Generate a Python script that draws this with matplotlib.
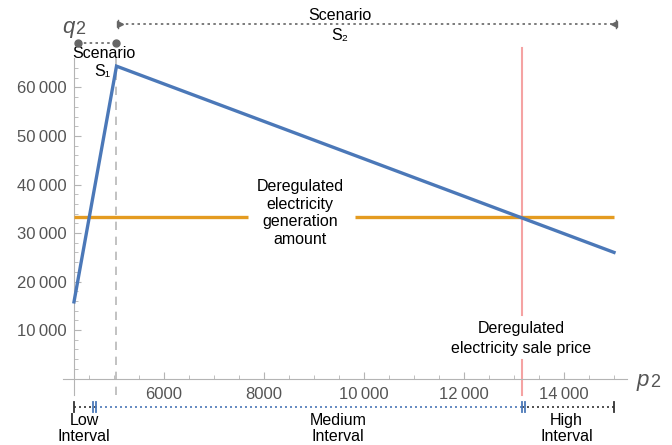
import matplotlib
matplotlib.use("Agg")
import matplotlib.pyplot as plt
import numpy as np

# ---- data ----
p_points = [4200, 5050, 15000]
q_points = [15800, 64400, 26000]
gen_amount = 33200
sale_price = 13150
low_end = 4620
x_major = [6000, 8000, 10000, 12000, 14000]
y_major = [10000, 20000, 30000, 40000, 50000, 60000]

FONT = ['Liberation Sans', 'DejaVu Sans']
plt.rcParams['font.family'] = FONT

def fmt(v):
    v = int(v)
    if v >= 10000:
        s = f"{v:,}".replace(",", "\u2009")
    else:
        s = str(v)
    return s

fig = plt.figure(figsize=(6.72, 4.45), dpi=100)
ax = fig.add_axes([0, 0, 1, 1])
ax.set_facecolor('white')

# pixel mapping: x px = 74 + (x-4200)*0.05 ; y px(from top) = 378.5 - y*0.00485
ax.set_xlim(2720, 16160)
ax.set_ylim(-13711, 78041)

for s in ['top', 'right']:
    ax.spines[s].set_visible(False)
axc = '#b4b4b4'
ax.spines['left'].set_position(('data', p_points[0]))
ax.spines['bottom'].set_position(('data', 0))
ax.spines['left'].set_bounds(-3500, 66000)
ax.spines['bottom'].set_bounds(3980, 15260)
ax.spines['left'].set_color(axc)
ax.spines['bottom'].set_color(axc)

ax.set_xticks(x_major)
ax.set_xticklabels([fmt(v) for v in x_major])
ax.set_xticks([v for v in np.arange(4500, 15001, 500) if v not in x_major], minor=True)
ax.set_yticks(y_major)
ax.set_yticklabels([fmt(v) for v in y_major])
ax.set_yticks([v for v in np.arange(2000, 64001, 2000) if v not in y_major], minor=True)
ax.tick_params(which='both', direction='in', color=axc, labelcolor='#555555', labelsize=12)
ax.tick_params(axis='x', which='major', length=5, pad=6)
ax.tick_params(axis='x', which='minor', length=3)
ax.tick_params(axis='y', which='major', length=5, pad=5)
ax.tick_params(axis='y', which='minor', length=3)

# dashed vertical at scenario boundary
ax.plot([p_points[1], p_points[1]], [-3500, 66000], color='#b8b8b8', lw=1.2,
        dashes=(5, 4), zorder=2)

# red vertical (sale price) with gap for text
red = '#f5a3a3'
ax.plot([sale_price, sale_price], [-3500, 3800], color=red, lw=1.5, zorder=2)
ax.plot([sale_price, sale_price], [13100, 68100], color=red, lw=1.5, zorder=2)
ax.text(sale_price, 10300, "Deregulated", ha='center', va='center', fontsize=11.5, color='black')
ax.text(sale_price, 6200, "electricity sale price", ha='center', va='center', fontsize=11.5, color='black')

# orange horizontal with gap for text
orange = '#E49B20'
ax.plot([p_points[0], 7680], [gen_amount, gen_amount], color=orange, lw=2.4, zorder=3,
        solid_capstyle='butt')
ax.plot([9820, p_points[-1]], [gen_amount, gen_amount], color=orange, lw=2.4, zorder=3,
        solid_capstyle='butt')
for i, t in enumerate(["Deregulated", "electricity", "generation", "amount"]):
    ax.text(8720, 39550 - i * 3600, t, ha='center', va='center', fontsize=11.5, color='black')

# blue curve
ax.plot(p_points, q_points, color='#4B78B8', lw=2.4, zorder=4, solid_joinstyle='miter')

# axis labels
ax.text(3960, 72400, "q", style='italic', fontsize=16, color='#555555', ha='left', va='center')
ax.text(4230, 71900, "2", fontsize=13, color='#555555', ha='left', va='center')
ax.text(15460, -400, "p", style='italic', fontsize=16, color='#555555', ha='left', va='center')
ax.text(15730, -800, "2", fontsize=13, color='#555555', ha='left', va='center')

# Scenario S1 bracket
yS1 = 69250
ax.plot([4280, p_points[1]], [yS1, yS1], color='#666666', lw=1.2, dashes=(1.5, 2), zorder=3)
ax.plot([4280, p_points[1]], [yS1, yS1], 'o', color='#666666', ms=5, zorder=4)
ax.text(4800, 67100, "Scenario", ha='center', va='center', fontsize=11.5, color='black')
ax.text(4920, 63200, "S\u2081", ha='right', va='center', fontsize=11.5, color='black')

# Scenario S2 bracket
yS2 = 73100
ax.plot([5120, p_points[-1]], [yS2, yS2], color='#666666', lw=1.2, dashes=(1.5, 2), zorder=3)
ax.plot([5120], [yS2], marker='>', color='#666666', ms=5, zorder=4)
ax.plot([p_points[-1]], [yS2], marker='<', color='#666666', ms=5, zorder=4)
ax.plot([5090, 5090], [yS2 - 900, yS2 + 900], color='#666666', lw=1)
ax.plot([p_points[-1] + 30, p_points[-1] + 30], [yS2 - 900, yS2 + 900], color='#666666', lw=1)
ax.text(9520, 74900, "Scenario", ha='center', va='center', fontsize=11.5, color='black',
        bbox=dict(facecolor='white', edgecolor='none', pad=0.5))
ax.text(9520, 70700, "S\u2082", ha='center', va='center', fontsize=11.5, color='black')

# interval brackets
yI = -5900
blue_d = '#4B78B8'
ax.plot([p_points[0], low_end], [yI, yI], color='#333333', lw=1.2, dashes=(1.2, 1.8))
ax.plot([low_end, sale_price], [yI, yI], color=blue_d, lw=1.2, dashes=(1.2, 1.8))
ax.plot([sale_price, p_points[-1]], [yI, yI], color='#333333', lw=1.2, dashes=(1.2, 1.8))
bh = 1000
ax.plot([p_points[0], p_points[0]], [yI - bh, yI + bh], color='#333333', lw=1.3)
ax.plot([low_end - 30, low_end - 30], [yI - bh, yI + bh], color=blue_d, lw=1.3)
ax.plot([low_end + 30, low_end + 30], [yI - bh, yI + bh], color=blue_d, lw=1.3)
ax.plot([sale_price + 10, sale_price + 10], [yI - bh, yI + bh], color=blue_d, lw=1.3)
ax.plot([sale_price + 70, sale_price + 70], [yI - bh, yI + bh], color=blue_d, lw=1.3)
ax.plot([p_points[-1], p_points[-1]], [yI - bh, yI + bh], color='#333333', lw=1.3)

for xc, lab in [(4400, "Low"), (9480, "Medium"), (14050, "High")]:
    ax.text(xc, -8700, lab, ha='center', va='center', fontsize=11.5, color='black')
    ax.text(xc, -12000, "Interval", ha='center', va='center', fontsize=11.5, color='black')

fig.savefig("out.png", dpi=100)
